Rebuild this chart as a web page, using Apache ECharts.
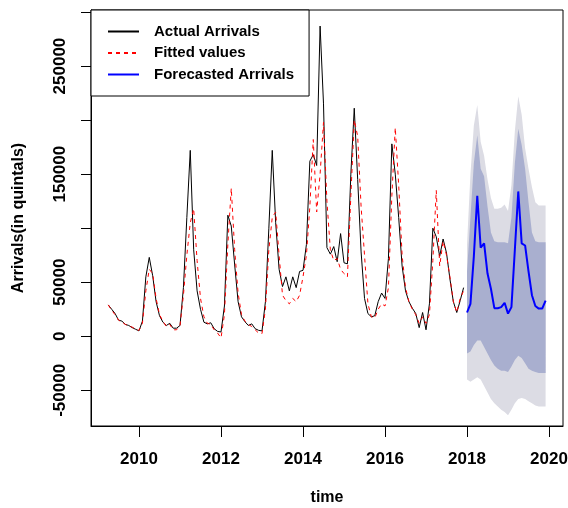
<!DOCTYPE html>
<html lang="en">
<head>
    <meta charset="UTF-8">
    <title>Arrivals forecast</title>
    <script src="https://cdn.jsdelivr.net/npm/echarts@6/dist/echarts.min.js"></script>
    <style>
        html, body {
            margin: 0;
            padding: 0;
            background: #fff;
        }
        #chart {
            width: 568px;
            height: 508px;
        }
    </style>
</head>
<body>
<div id="chart"></div>
<script>
    // monthly series, first month Apr 2009
    const startYear = 2009 + 3 / 12;
    const actualArrivals = [
        29000, 25000, 21000, 15000, 14000, 11000, 10000, 8000, 6500,
        5000, 14000, 55000, 73000, 56000, 32000, 19000, 13000, 10000, 12000, 7500, 7500,
        10000, 45000, 110000, 172000, 80000, 42000, 25000, 13000, 11500, 12500, 7000, 4500,
        4000, 28000, 112000, 102000, 66000, 32000, 18000, 13500, 10000, 11500, 7000, 5500,
        5000, 32000, 100000, 172000, 105000, 62000, 46000, 55000, 42000, 55000, 45000, 60000,
        61000, 85000, 162000, 168000, 158000, 287000, 215000, 82000, 76000, 83000, 69000, 95000,
        68000, 67000, 150000, 211000, 145000, 78000, 35000, 21000, 18000, 19000, 32000, 40000,
        35000, 72000, 178000, 150000, 110000, 65000, 42000, 32000, 26000, 21000, 8000, 22000,
        6000, 30000, 100000, 92000, 74000, 90000, 77000, 53000, 32000, 22000, 33000, 45000
    ];
    const fittedValues = [
        29000, 24000, 20000, 15000, 13000, 11000, 9500, 8500, 6500,
        5500, 12000, 42000, 62000, 58000, 35000, 20000, 14000, 9000, 11000, 6000, 6000,
        10000, 38000, 75000, 105000, 118000, 70000, 35000, 18000, 12000, 11000, 6000, 3000,
        -1500, 20000, 85000, 137000, 80000, 40000, 20000, 14000, 11000, 9000, 6000, 3000,
        2500, 25000, 80000, 110000, 115000, 75000, 38000, 33000, 30000, 35000, 32000, 38000,
        55000, 75000, 120000, 182000, 115000, 150000, 198000, 125000, 80000, 70000, 72000, 62000,
        58000, 55000, 130000, 200000, 185000, 120000, 75000, 30000, 18000, 17000, 25000, 30000,
        28000, 45000, 130000, 193000, 140000, 75000, 45000, 32000, 25000, 20000, 12000, 18000,
        12000, 20000, 70000, 135000, 65000, 88000, 75000, 55000, 32000, 22000, 35000, 42000
    ];

    // forecasts, Jan 2018 - Dec 2019
    const forecastStart = 2018;
    const forecastArrivals = [
        22000, 30000, 74000, 130000, 82000, 86000, 58000, 44000, 26000, 26000, 27000, 31000,
        21000, 27000, 80000, 134000, 86000, 84000, 60000, 38000, 28000, 25600, 25600, 33000
    ];
    const hi95 = [
        85000, 150000, 195000, 214000, 180000, 167000, 145000, 128000, 118000, 118000, 119000, 122000,
        116000, 140000, 190000, 222000, 205000, 174000, 155000, 138000, 124000, 121000, 121000, 121000
    ];
    const hi80 = [
        60000, 110000, 160000, 186000, 155000, 148000, 120000, 96000, 88000, 87000, 87000, 87000,
        86000, 110000, 160000, 192000, 177000, 155000, 124000, 96000, 88000, 87000, 87000, 87000
    ];
    const lo80 = [
        -16000, -14000, -8000, -4000, -4000, -10000, -16000, -22000, -27000, -30000, -32000, -32000,
        -33000, -28000, -22000, -18000, -20000, -25000, -30000, -32000, -33000, -34000, -34000, -34000
    ];
    const lo95 = [
        -40000, -42000, -40000, -38000, -40000, -46000, -52000, -58000, -62000, -65000, -68000, -70000,
        -73000, -68000, -62000, -58000, -57000, -58000, -60000, -62000, -64000, -65000, -65000, -65000
    ];

    const xTicks = [2010, 2012, 2014, 2016, 2018, 2020];
    const yTicks = [-50000, 0, 50000, 100000, 150000, 200000, 250000, 300000];
    const yLabels = [-50000, 0, 50000, 150000, 250000];

    const font = "'Liberation Sans', Arial, sans-serif";

    function monthly(values, t0) {
        return values.map(function (v, i) {
            return [t0 + i / 12, v];
        });
    }

    // prediction interval drawn as one polygon: upper edge, then lower edge backwards
    function bandSeries(upper, lower, color) {
        return {
            type: 'custom',
            silent: true,
            z: 1,
            data: [[forecastStart, 0]],
            renderItem: function (params, api) {
                let points = [];
                for (let i = 0; i < upper.length; i++) {
                    points.push(api.coord([forecastStart + i / 12, upper[i]]));
                }
                for (let i = lower.length - 1; i >= 0; i--) {
                    points.push(api.coord([forecastStart + i / 12, lower[i]]));
                }
                return {
                    type: 'polygon',
                    shape: {points: points},
                    style: {fill: color}
                };
            }
        };
    }

    function plainNumber(v) {
        return String(v);
    }

    let chart = echarts.init(document.getElementById('chart'));

    let options = {
        animation: false,
        grid: {
            left: 91,
            right: 5,
            top: 10,
            bottom: 82,
            outerBoundsMode: 'none',
            show: true,
            borderColor: '#000',
            borderWidth: 1,
            backgroundColor: 'transparent'
        },
        legend: {
            data: ['Actual Arrivals', 'Fitted values', 'Forecasted Arrivals'],
            orient: 'vertical',
            left: 91,
            top: 10,
            padding: [14, 15, 14, 16],
            itemWidth: 31,
            itemHeight: 14,
            itemGap: 6.5,
            selectedMode: false,
            backgroundColor: '#fff',
            borderColor: '#000',
            borderWidth: 1,
            borderRadius: 0,
            z: 10,
            itemStyle: {opacity: 0},
            textStyle: {
                fontFamily: font,
                fontSize: 15,
                fontWeight: 'bold',
                color: '#000',
                padding: [0, 0, 0, 10]
            }
        },
        xAxis: {
            type: 'value',
            min: 2008.829,
            max: 2020.341,
            name: 'time',
            nameLocation: 'middle',
            nameGap: 64,
            nameTextStyle: {fontFamily: font, fontSize: 16, fontWeight: 'bold', color: '#000'},
            axisLine: {show: true, onZero: false, lineStyle: {color: '#000', width: 1}},
            axisTick: {show: true, customValues: xTicks, length: 11, lineStyle: {color: '#000'}},
            axisLabel: {
                customValues: xTicks,
                formatter: plainNumber,
                margin: 25,
                fontFamily: font,
                fontSize: 17,
                fontWeight: 'bold',
                color: '#000'
            },
            splitLine: {show: false}
        },
        yAxis: {
            type: 'value',
            min: -83000,
            max: 301850,
            name: 'Arrivals(in quintals)',
            nameLocation: 'middle',
            nameGap: 64,
            nameRotate: 90,
            nameTextStyle: {fontFamily: font, fontSize: 16, fontWeight: 'bold', color: '#000'},
            axisLine: {show: true, onZero: false, lineStyle: {color: '#000', width: 1}},
            axisTick: {show: true, customValues: yTicks, length: 10, lineStyle: {color: '#000'}},
            axisLabel: {
                customValues: yLabels,
                formatter: plainNumber,
                rotate: 90,
                margin: 22,
                fontFamily: font,
                fontSize: 17,
                fontWeight: 'bold',
                color: '#000'
            },
            splitLine: {show: false}
        },
        series: [
            bandSeries(hi95, lo95, '#DCDCE4'),
            bandSeries(hi80, lo80, '#A9AFCF'),
            {
                name: 'Actual Arrivals',
                type: 'line',
                data: monthly(actualArrivals, startYear),
                symbol: 'none',
                z: 3,
                itemStyle: {color: '#000'},
                lineStyle: {color: '#000', width: 1}
            },
            {
                name: 'Fitted values',
                type: 'line',
                data: monthly(fittedValues, startYear),
                symbol: 'none',
                z: 4,
                itemStyle: {color: '#FF0000'},
                lineStyle: {color: '#FF0000', width: 1, type: [4, 4]}
            },
            {
                name: 'Forecasted Arrivals',
                type: 'line',
                data: monthly(forecastArrivals, forecastStart),
                symbol: 'none',
                z: 5,
                itemStyle: {color: '#0000FF'},
                lineStyle: {color: '#0000FF', width: 2}
            }
        ]
    };

    chart.setOption(options);
</script>
</body>
</html>
